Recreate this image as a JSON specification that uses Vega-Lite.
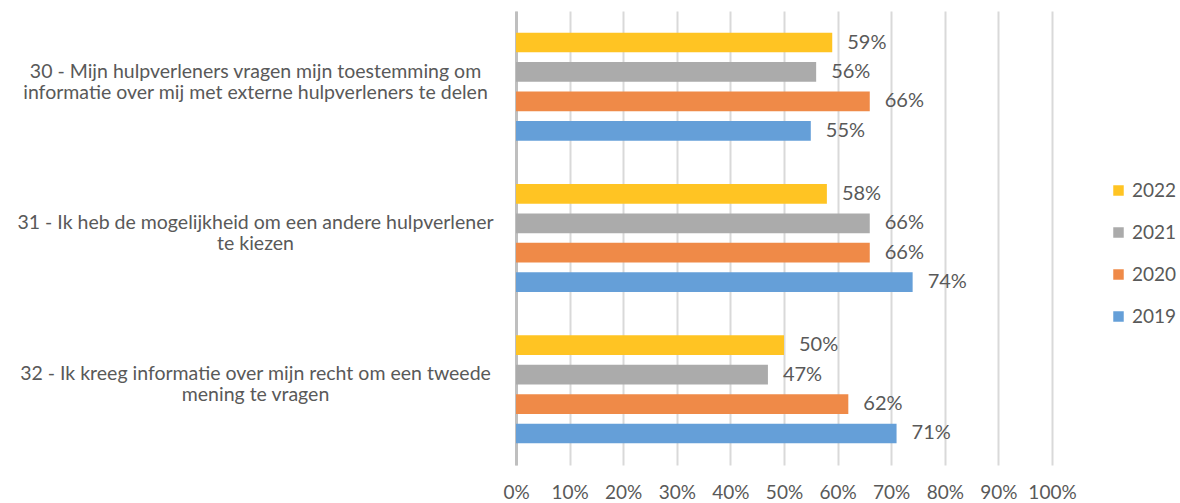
{
  "$schema": "https://vega.github.io/schema/vega-lite/v6.json",
  "width": 536,
  "height": 454,
  "autosize": {"type": "none"},
  "padding": {"left": 516, "top": 11, "right": 128, "bottom": 38},
  "background": "white",
  "config": {"font": "Lato", "view": {"stroke": null}},
  "data": {
    "values": [
      {"vraag": "30 - Mijn hulpverleners vragen mijn toestemming om|informatie over mij met externe hulpverleners te delen", "jaar": "2022", "waarde": 0.59},
      {"vraag": "30 - Mijn hulpverleners vragen mijn toestemming om|informatie over mij met externe hulpverleners te delen", "jaar": "2021", "waarde": 0.56},
      {"vraag": "30 - Mijn hulpverleners vragen mijn toestemming om|informatie over mij met externe hulpverleners te delen", "jaar": "2020", "waarde": 0.66},
      {"vraag": "30 - Mijn hulpverleners vragen mijn toestemming om|informatie over mij met externe hulpverleners te delen", "jaar": "2019", "waarde": 0.55},
      {"vraag": "31 - Ik heb de mogelijkheid om een andere hulpverlener|te kiezen", "jaar": "2022", "waarde": 0.58},
      {"vraag": "31 - Ik heb de mogelijkheid om een andere hulpverlener|te kiezen", "jaar": "2021", "waarde": 0.66},
      {"vraag": "31 - Ik heb de mogelijkheid om een andere hulpverlener|te kiezen", "jaar": "2020", "waarde": 0.66},
      {"vraag": "31 - Ik heb de mogelijkheid om een andere hulpverlener|te kiezen", "jaar": "2019", "waarde": 0.74},
      {"vraag": "32 - Ik kreeg informatie over mijn recht om een tweede|mening te vragen", "jaar": "2022", "waarde": 0.50},
      {"vraag": "32 - Ik kreeg informatie over mijn recht om een tweede|mening te vragen", "jaar": "2021", "waarde": 0.47},
      {"vraag": "32 - Ik kreeg informatie over mijn recht om een tweede|mening te vragen", "jaar": "2020", "waarde": 0.62},
      {"vraag": "32 - Ik kreeg informatie over mijn recht om een tweede|mening te vragen", "jaar": "2019", "waarde": 0.71}
    ]
  },
  "encoding": {
    "y": {
      "field": "vraag", "type": "nominal", "sort": null,
      "scale": {"paddingInner": 0.286, "paddingOuter": 0.143},
      "axis": {
        "title": null, "ticks": false, "grid": false,
        "domain": true, "domainColor": "#BFBFBF", "domainWidth": 3,
        "labelAlign": "center", "labelBaseline": "middle", "labelPadding": 261, "labelLimit": 0,
        "labelFontSize": 19.5, "labelColor": "#595959",
        "labelExpr": "split(datum.label, '|')", "labelLineHeight": 21, "labelOffset": -15
      }
    },
    "yOffset": {
      "field": "jaar", "type": "nominal", "sort": ["2022", "2021", "2020", "2019"],
      "scale": {"paddingInner": 0.33, "paddingOuter": 0}
    },
    "x": {
      "field": "waarde", "type": "quantitative",
      "scale": {"domain": [0, 1]},
      "axis": {
        "title": null, "values": [0, 0.1, 0.2, 0.3, 0.4, 0.5, 0.6, 0.7, 0.8, 0.9, 1],
        "format": ".0%", "domain": false, "ticks": false,
        "grid": true, "gridColor": "#D9D9D9", "gridWidth": 2,
        "labelFontSize": 19, "labelColor": "#595959", "labelPadding": 18, "labelFlush": false
      }
    }
  },
  "layer": [
    {
      "mark": {"type": "bar"},
      "encoding": {
        "color": {
          "field": "jaar", "type": "nominal", "sort": ["2022", "2021", "2020", "2019"],
          "scale": {"domain": ["2022", "2021", "2020", "2019"], "range": ["#FFC423", "#ABABAB", "#EF8A48", "#659FD8"]},
          "legend": {
            "title": null, "orient": "none", "legendX": 593, "legendY": 170,
            "symbolType": "square", "symbolSize": 110, "symbolStrokeWidth": 0,
            "labelFontSize": 19, "labelColor": "#595959", "rowPadding": 22, "labelOffset": 4
          }
        }
      }
    },
    {
      "mark": {"type": "text", "align": "left", "baseline": "middle", "dx": 15, "fontSize": 20, "color": "#595959"},
      "encoding": {"text": {"field": "waarde", "type": "quantitative", "format": ".0%"}}
    }
  ]
}
